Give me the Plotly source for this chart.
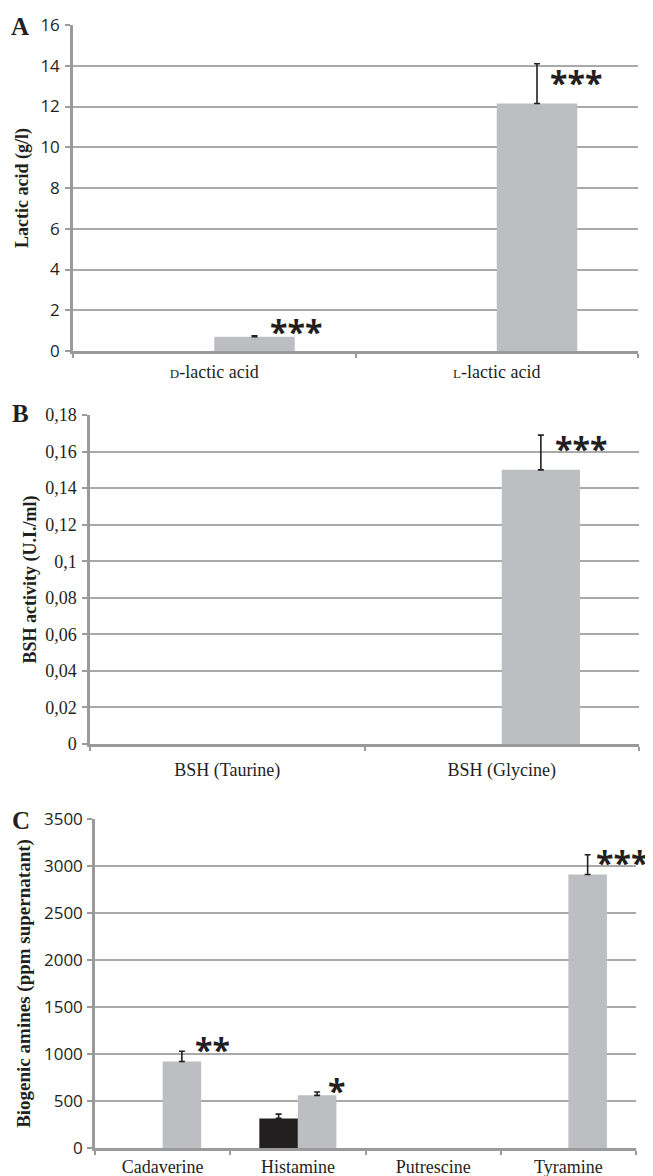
import plotly.graph_objects as go

# Target picture size; the page body adds an 8px margin around the figure,
# so the figure itself is drawn 8px smaller and all pixel positions are offset.
W, H = 653, 1176
OFF = 8
FW, FH = W - OFF, H - OFF

# ---------------- Data ----------------
# Panel A
a_categories = ["<span style='font-size:13px'>D</span>-lactic acid", "<span style='font-size:13px'>L</span>-lactic acid"]
a_dark = [0.0, 0.0]
a_grey = [0.7, 12.15]
a_grey_err = [0.05, 1.95]
a_sig = ["***", "***"]
a_tickvals = [0, 2, 4, 6, 8, 10, 12, 14, 16]

# Panel B
b_categories = ["BSH (Taurine)", "BSH (Glycine)"]
b_dark = [0.0, 0.0]
b_grey = [0.0, 0.15]
b_grey_err = [0.0, 0.019]
b_sig = ["", "***"]
b_tickvals = [0, 0.02, 0.04, 0.06, 0.08, 0.1, 0.12, 0.14, 0.16, 0.18]
b_ticktext = ["0", "0,02", "0,04", "0,06", "0,08", "0,1", "0,12", "0,14", "0,16", "0,18"]

# Panel C
c_categories = ["Cadaverine", "Histamine", "Putrescine", "Tyramine"]
c_dark = [0, 315, 0, 0]
c_dark_err = [0, 45, 0, 0]
c_grey = [920, 560, 0, 2910]
c_grey_err = [110, 35, 0, 210]
c_sig = ["**", "*", "", "***"]
c_tickvals = [0, 500, 1000, 1500, 2000, 2500, 3000, 3500]

# ---------------- Styles ----------------
DARK = "#231F20"
GREY = "#BDBEC2"
AXIS = "#9A9A9A"
GRID = "#A9A9A9"
SERIF = "Liberation Serif, Times New Roman, serif"
SANS = "Open Sans, sans-serif"


def px_x(a, b):
    return [(a - OFF) / FW, (b - OFF) / FW]


def px_y(top, bottom):
    return [1 - (bottom - OFF) / FH, 1 - (top - OFF) / FH]


def drawn(vals):
    # zero-height bars are invisible; skip them so no stray error caps appear on the axis
    return [v if v else None for v in vals]


panels = [
    dict(cats=a_categories, dark=a_dark, dark_err=None, grey=a_grey, grey_err=a_grey_err,
         sig=a_sig, xd=px_x(73, 638), yd=px_y(25, 351), rng=[0, 16],
         tickvals=a_tickvals, ticktext=[str(v) for v in a_tickvals], tickfont=dict(family=SANS, size=17, color=DARK),
         title="Lactic acid (g/l)", tsize=18, standoff=8, xstand=3, ystand=2,
         sig_dx=[54, 51], sig_dy=[4, -19]),
    dict(cats=b_categories, dark=b_dark, dark_err=None, grey=b_grey, grey_err=b_grey_err,
         sig=b_sig, xd=px_x(90, 639), yd=px_y(415, 744), rng=[0, 0.18],
         tickvals=b_tickvals, ticktext=b_ticktext, tickfont=dict(family=SERIF, size=18, color=DARK),
         title="BSH activity (U.I./ml)", tsize=18, standoff=4, xstand=8, ystand=2,
         sig_dx=[0, 51], sig_dy=[0, -13]),
    dict(cats=c_categories, dark=c_dark, dark_err=c_dark_err, grey=c_grey, grey_err=c_grey_err,
         sig=c_sig, xd=px_x(95, 636), yd=px_y(819, 1148), rng=[0, 3500],
         tickvals=c_tickvals, ticktext=[str(v) for v in c_tickvals], tickfont=dict(family=SANS, size=17, color=DARK),
         title="Biogenic amines (ppm supernatant)", tsize=19, standoff=9, xstand=1, ystand=1,
         sig_dx=[30, 28, 0, 26], sig_dy=[2, 2, 0, -8]),
]

fig = go.Figure()
annotations = []
layout = {}

for i, p in enumerate(panels, start=1):
    xa = "x" if i == 1 else f"x{i}"
    ya = "y" if i == 1 else f"y{i}"
    n = len(p["cats"])
    err_cfg = dict(type="data", symmetric=False, color=DARK, thickness=1.6, width=3)
    dark_err = None
    if p["dark_err"] is not None:
        dark_err = dict(err_cfg, array=p["dark_err"], arrayminus=[0] * n)
    fig.add_trace(go.Bar(x=p["cats"], y=drawn(p["dark"]), marker=dict(color=DARK, line=dict(width=0)),
                         error_y=dark_err, xaxis=xa, yaxis=ya, showlegend=False, offsetgroup="d"))
    fig.add_trace(go.Bar(x=p["cats"], y=drawn(p["grey"]), marker=dict(color=GREY, line=dict(width=0)),
                         error_y=dict(err_cfg, array=p["grey_err"], arrayminus=[0] * n),
                         xaxis=xa, yaxis=ya, showlegend=False, offsetgroup="g"))
    kx = "xaxis" if i == 1 else f"xaxis{i}"
    ky = "yaxis" if i == 1 else f"yaxis{i}"
    layout[kx] = dict(domain=p["xd"], anchor=ya, type="category", tickson="boundaries",
                      categoryorder="array", categoryarray=p["cats"], range=[-0.5, n - 0.5],
                      ticks="outside", ticklen=4, tickcolor=AXIS, tickwidth=1.5,
                      showline=True, linecolor=AXIS, linewidth=2.5, showgrid=False,
                      tickfont=dict(family=SERIF, size=18, color=DARK), ticklabelstandoff=p["xstand"],
                      automargin=False, fixedrange=True)
    layout[ky] = dict(domain=p["yd"], anchor=xa, range=p["rng"], tickvals=p["tickvals"], ticktext=p["ticktext"],
                      ticks="outside", ticklen=5, tickcolor=AXIS, tickwidth=1.5,
                      showline=True, linecolor=AXIS, linewidth=2.5,
                      showgrid=True, gridcolor=GRID, gridwidth=2, zeroline=False,
                      tickfont=p["tickfont"], ticklabelstandoff=p["ystand"],
                      title=dict(text=f"<b>{p['title']}</b>", font=dict(family=SERIF, size=p["tsize"], color=DARK),
                                 standoff=p["standoff"]),
                      automargin=False, fixedrange=True)
    for j, cat in enumerate(p["cats"]):
        if not p["sig"][j]:
            continue
        top = p["grey"][j] + p["grey_err"][j]
        annotations.append(dict(x=cat, y=top, xref=xa, yref=ya, text=f"<b>{p['sig'][j]}</b>", showarrow=False,
                                xanchor="left", yanchor="middle", xshift=p["sig_dx"][j], yshift=p["sig_dy"][j],
                                font=dict(family=SANS, size=32, color=DARK)))

for letter, xp, yp in [("A", 9, 27), ("B", 10, 413), ("C", 10, 820)]:
    annotations.append(dict(x=(xp - OFF) / FW, y=1 - (yp - OFF) / FH, xref="paper", yref="paper",
                            text=f"<b>{letter}</b>", showarrow=False, xanchor="left", yanchor="middle",
                            font=dict(family=SERIF, size=25, color=DARK)))

fig.update_layout(
    width=FW, height=FH, margin=dict(l=0, r=0, t=0, b=0, autoexpand=False),
    paper_bgcolor="white", plot_bgcolor="white",
    barmode="group", bargap=0.43, bargroupgap=0,
    annotations=annotations, showlegend=False,
    **layout,
)

fig.write_html("out.html")
